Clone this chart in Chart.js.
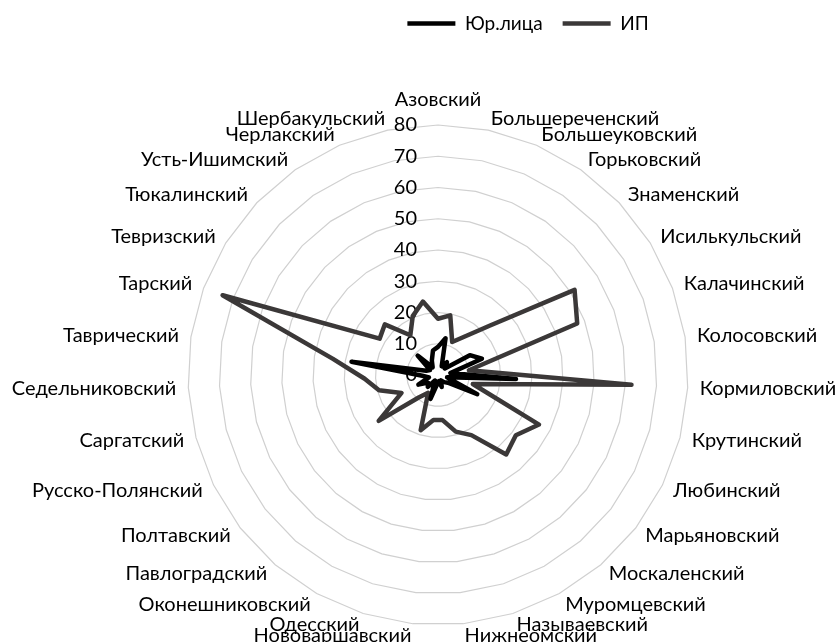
<!DOCTYPE html>
<html>
<head>
<meta charset="utf-8">
<script src="https://cdn.jsdelivr.net/npm/chart.js@4.4.1/dist/chart.umd.min.js"></script>
<style>
  html, body { margin: 0; padding: 0; background: #fff; }
</style>
</head>
<body>
<canvas id="myChart" width="836" height="642"></canvas>
<script>
// районы (по часовой стрелке от верха)
const districts = [
  'Азовский', 'Большереченский', 'Большеуковский', 'Горьковский', 'Знаменский',
  'Исилькульский', 'Калачинский', 'Колосовский', 'Кормиловский', 'Крутинский',
  'Любинский', 'Марьяновский', 'Москаленский', 'Муромцевский', 'Называевский',
  'Нижнеомский', 'Нововаршавский', 'Одесский', 'Оконешниковский', 'Павлоградский',
  'Полтавский', 'Русско-Полянский', 'Саргатский', 'Седельниковский', 'Таврический',
  'Тарский', 'Тевризский', 'Тюкалинский', 'Усть-Ишимский', 'Черлакский', 'Шербакульский'
];

const legalEntities = [9, 12, 3, 5, 3, 12, 15, 4, 25, 3, 14, 4, 3, 2, 4, 2, 3, 8, 2, 5, 4, 7, 3, 5, 28, 4, 3, 9, 3, 5, 8];
const entrepreneurs = [18, 19.5, 11.5, 15, 23, 51.5, 47.5, 10, 62, 11.5, 36, 31.5, 33.5, 22, 19, 14.5, 14.5, 18.5, 6.5, 9.5, 24, 13, 19.5, 23.5, 34, 73.5, 22, 23.5, 15.5, 20.5, 24];

const tickValues = [0, 10, 20, 30, 40, 50, 60, 70, 80];

const FONT_FAMILY = 'Lato, "Open Sans", "DejaVu Sans", sans-serif';

// legend sits up and to the right, like in the excel original
const legendShift = {
  id: 'legendShift',
  afterLayout(chart) {
    const lg = chart.legend;
    lg.left += 90;
    lg.right += 90;
    lg.top -= 82;
    lg.bottom -= 82;
  }
};

// value labels left of the vertical axis + district names around the web
const axisText = {
  id: 'axisText',
  beforeDatasetsDraw(chart) {
    const scale = chart.scales.r;
    const ctx = chart.ctx;
    ctx.save();
    ctx.font = '20px ' + FONT_FAMILY;
    ctx.fillStyle = '#000';

    ctx.textAlign = 'right';
    ctx.textBaseline = 'middle';
    tickValues.forEach(v => {
      const d = scale.getDistanceFromCenterForValue(v);
      ctx.fillText(String(v), scale.xCenter - 21, scale.yCenter - d);
    });

    districts.forEach((name, i) => {
      const angle = 360 * i / districts.length;
      if (i === 0) {
        const p = scale.getPointPosition(i, scale.drawingArea + 19);
        ctx.textAlign = 'center';
        ctx.textBaseline = 'alphabetic';
        ctx.fillText(name, p.x, p.y);
        return;
      }
      const p = scale.getPointPosition(i, scale.drawingArea + 12);
      ctx.textAlign = angle < 180 ? 'left' : 'right';
      ctx.textBaseline = 'middle';
      ctx.fillText(name, p.x, p.y);
    });
    ctx.restore();
  }
};

const ctx = document.getElementById('myChart').getContext('2d');
new Chart(ctx, {
  type: 'radar',
  data: {
    labels: districts,
    datasets: [
      {
        label: 'Юр.лица',
        data: legalEntities,
        borderColor: '#000000',
        backgroundColor: '#000000',
        borderWidth: 4.5,
        borderJoinStyle: 'round',
        fill: false,
        pointRadius: 0,
        pointHoverRadius: 0,
        tension: 0
      },
      {
        label: 'ИП',
        data: entrepreneurs,
        borderColor: '#3b3838',
        backgroundColor: '#3b3838',
        borderWidth: 4.5,
        borderJoinStyle: 'round',
        fill: false,
        pointRadius: 0,
        pointHoverRadius: 0,
        tension: 0
      }
    ]
  },
  options: {
    responsive: false,
    animation: false,
    layout: { autoPadding: false, padding: { top: 76, bottom: 17, left: 50, right: 10 } },
    plugins: {
      legend: {
        position: 'top',
        labels: {
          usePointStyle: true,
          pointStyle: 'line',
          pointStyleWidth: 48,
          padding: 20,
          color: '#000',
          font: { family: FONT_FAMILY, size: 19 }
        }
      },
      tooltip: { enabled: false }
    },
    scales: {
      r: {
        min: 0,
        max: 80,
        startAngle: 0,
        ticks: { stepSize: 10, display: false },
        grid: { color: '#d0d0d0', lineWidth: 1.2 },
        angleLines: { display: false },
        pointLabels: { display: false }
      }
    }
  },
  plugins: [legendShift, axisText]
});
</script>
</body>
</html>
